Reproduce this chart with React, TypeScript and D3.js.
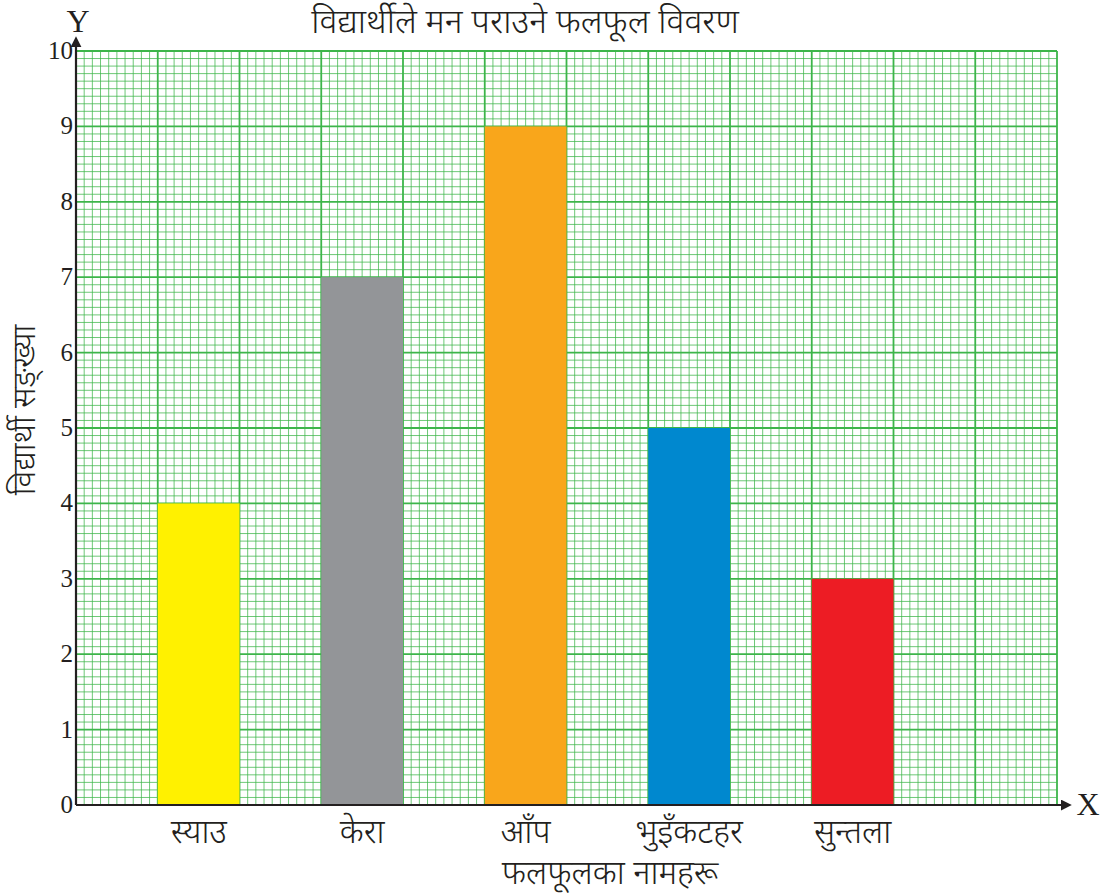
import React from "react";
import * as d3 from "d3";

const categories = ["स्याउ", "केरा", "आँप", "भुइँकटहर", "सुन्तला"];
const values = [4, 7, 9, 5, 3];
const colors = ["#FFF100", "#939598", "#F9A61B", "#0088CF", "#ED1C24"];
const yTicks = [0, 1, 2, 3, 4, 5, 6, 7, 8, 9, 10];
const title = "विद्यार्थीले मन पराउने फलफूल विवरण";
const xTitle = "फलफूलका नामहरू";
const yTitle = "विद्यार्थी सङ्ख्या";

const W = 1113, H = 896;
const left = 76, right = 1057, top = 51, bottom = 805;
const nCols = 12;
const devFont = "'Noto Sans Devanagari', 'Noto Sans', 'Lohit Devanagari', sans-serif";
const serif = "'Liberation Serif', 'DejaVu Serif', serif";

export default function App() {
  const y = d3.scaleLinear().domain([0, 10]).range([bottom, top]);
  const colX = d3.scaleLinear().domain([0, nCols]).range([left, right]);
  const bw = colX(1) - colX(0);

  const minorV = d3.range(0, nCols * 10 + 1).map((i) => i / 10);
  const minorH = d3.range(0, 101).map((i) => i / 10);

  return (
    <svg width={W} height={H} style={{ position: "absolute", left: 0, top: 0, background: "#fff" }}>
      <defs>
        <marker id="arr" viewBox="0 0 10 10" refX="2" refY="5" markerWidth="5" markerHeight="5" orient="auto">
          <path d="M0,0 L10,5 L0,10 z" fill="#231F20" />
        </marker>
      </defs>
      {/* minor grid */}
      <g stroke="#3DB54A" strokeOpacity={0.75} strokeWidth={1}>
        {minorV.filter((v) => Math.abs(v - Math.round(v)) > 1e-6).map((v, i) => (
          <line key={"mv" + i} x1={colX(v)} x2={colX(v)} y1={top} y2={bottom} />
        ))}
        {minorH.filter((v) => Math.abs(v - Math.round(v)) > 1e-6).map((v, i) => (
          <line key={"mh" + i} x1={left} x2={right} y1={y(v)} y2={y(v)} />
        ))}
      </g>
      {/* major grid */}
      <g stroke="#3DB54A" strokeWidth={1.8}>
        {d3.range(0, nCols + 1).map((v) => (
          <line key={"Mv" + v} x1={colX(v)} x2={colX(v)} y1={top} y2={bottom} />
        ))}
        {yTicks.map((v) => (
          <line key={"Mh" + v} x1={left} x2={right} y1={y(v)} y2={y(v)} />
        ))}
      </g>
      {/* bars */}
      {categories.map((c, i) => {
        const x0 = colX(1 + 2 * i);
        return (
          <rect key={c} x={x0} y={y(values[i])} width={bw} height={y(0) - y(values[i])} fill={colors[i]} />
        );
      })}
      {/* axes */}
      <line x1={left} x2={left} y1={bottom} y2={top - 6} stroke="#231F20" strokeWidth={2.2} markerEnd="url(#arr)" />
      <line x1={left} x2={right + 6} y1={bottom} y2={bottom} stroke="#231F20" strokeWidth={2.2} markerEnd="url(#arr)" />
      {/* tick labels */}
      {yTicks.map((v) => (
        <text key={"t" + v} x={left - 3} y={y(v) + 8} textAnchor="end" fontFamily={serif} fontSize={25} fill="#231F20">
          {v}
        </text>
      ))}
      <text x={left + 2} y={32} textAnchor="middle" fontFamily={serif} fontSize={32} fill="#231F20">Y</text>
      <text x={1088} y={815} textAnchor="middle" fontFamily={serif} fontSize={32} fill="#231F20">X</text>
      {/* category labels */}
      {categories.map((c, i) => (
        <text key={"c" + c} x={colX(1.5 + 2 * i)} y={843} textAnchor="middle" fontFamily={devFont} fontSize={33} fontWeight={300} fill="#231F20">
          {c}
        </text>
      ))}
      <text x={525} y={33} textAnchor="middle" fontFamily={devFont} fontSize={34} fontWeight={300} fill="#231F20">{title}</text>
      <text x={610} y={884} textAnchor="middle" fontFamily={devFont} fontSize={33} fontWeight={300} fill="#231F20">{xTitle}</text>
      <text transform={`translate(35,410) rotate(-90)`} textAnchor="middle" fontFamily={devFont} fontSize={32} fontWeight={300} fill="#231F20">{yTitle}</text>
    </svg>
  );
}
